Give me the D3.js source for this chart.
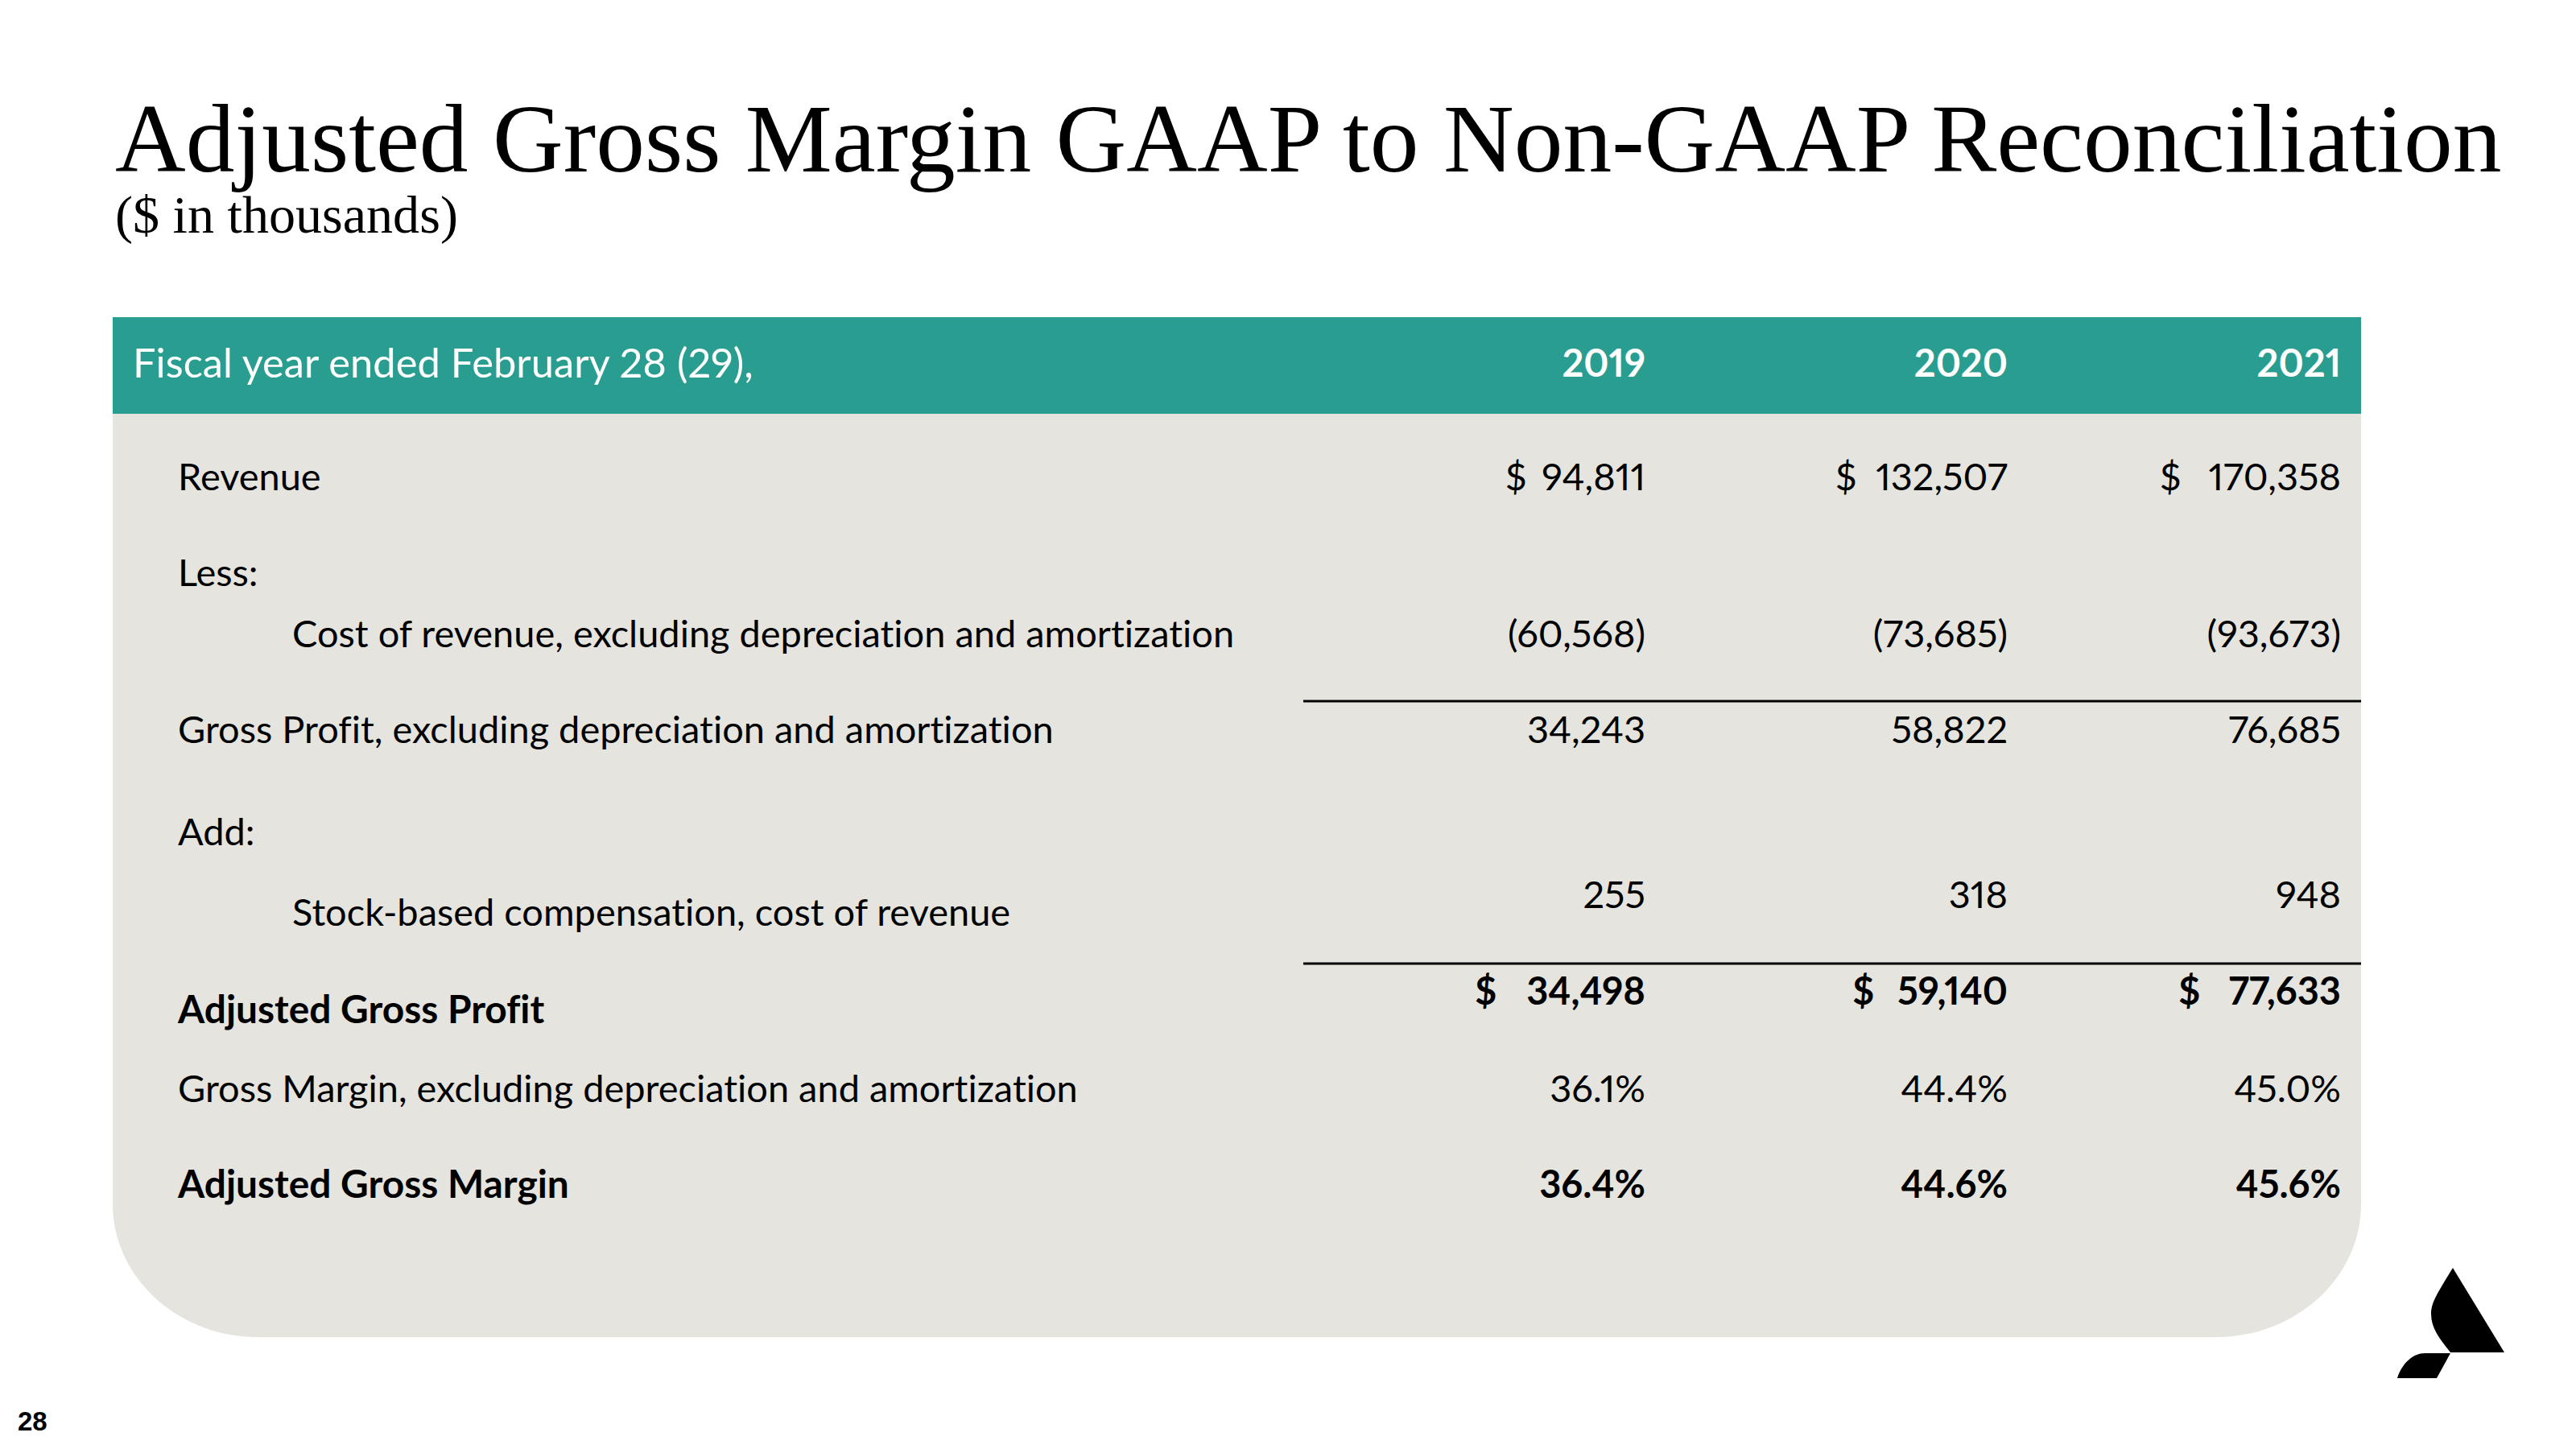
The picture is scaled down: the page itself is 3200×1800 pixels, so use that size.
<!DOCTYPE html>
<html>
<head>
<meta charset="utf-8">
<script src="https://cdn.jsdelivr.net/npm/d3@7"></script>
<style>
html,body{margin:0;padding:0;background:#fff;}
svg{display:block;}
svg text{font-variant-ligatures:none;font-feature-settings:"liga" 0, "pnum" 1;}
</style>
</head>
<body>
<svg id="chart" width="3200" height="1800"></svg>
<script>
// ---------------- DATA ----------------
const titleText = "Adjusted Gross Margin GAAP to Non-GAAP Reconciliation";
const subtitleText = "($ in thousands)";
const headerLabel = "Fiscal year ended February 28 (29),";
const years = ["2019", "2020", "2021"];
const rowKeys = ["revenue", "less", "cost", "gp", "add", "sbc", "agp", "gm", "agm"];
const rowLabels = [
  "Revenue",
  "Less:",
  "Cost of revenue, excluding depreciation and amortization",
  "Gross Profit, excluding depreciation and amortization",
  "Add:",
  "Stock-based compensation, cost of revenue",
  "Adjusted Gross Profit",
  "Gross Margin, excluding depreciation and amortization",
  "Adjusted Gross Margin"
];
const revenue = [94811, 132507, 170358];
const costOfRevenue = [-60568, -73685, -93673];
const grossProfit = [34243, 58822, 76685];
const stockComp = [255, 318, 948];
const adjGrossProfit = [34498, 59140, 77633];
const grossMargin = [36.1, 44.4, 45.0];
const adjGrossMargin = [36.4, 44.6, 45.6];
const pageNumber = "28";

// ---------------- LAYOUT ----------------
const svg = d3.select("#chart");
const panel = {x0: 140, x1: 2933, top: 394, headBottom: 514, bottom: 1661, rx: 180, ry: 165};
const teal = "#299e90", grey = "#e5e4de";
const bodyFont = "Lato, 'Noto Sans', sans-serif";

// column (right edge) scale
const colX = d3.scaleOrdinal().domain(years).range([2044, 2494, 2908]);
// dollar sign positions per column, regular and bold rows
const dollarReg = d3.scaleOrdinal().domain(years).range([1870, 2280, 2683]);
const dollarBold = d3.scaleOrdinal().domain(years).range([1832, 2301, 2706]);
// row baselines
const labelY = d3.scaleOrdinal().domain(rowKeys).range([609, 728, 804, 923, 1050, 1150, 1271, 1369, 1488]);
const valueY = d3.scaleOrdinal().domain(rowKeys).range([609, 728, 804, 923, 1050, 1128, 1248, 1369, 1488]);
const indent = {revenue:221, less:221, cost:363, gp:221, add:221, sbc:363, agp:221, gm:221, agm:221};
const boldRows = new Set(["agp", "agm"]);

function fitText(sel, targetW) {
  const w = sel.node().getComputedTextLength();
  const fs = parseFloat(sel.attr("font-size"));
  sel.attr("font-size", fs * targetW / w);
}

// ---------------- TITLE ----------------
const title = svg.append("text")
  .attr("x", 143).attr("y", 213)
  .attr("font-family", "'Liberation Serif', 'Times New Roman', serif")
  .attr("font-size", 122).attr("fill", "#000")
  .text(titleText);
fitText(title, 2965);
const sub = svg.append("text")
  .attr("x", 143).attr("y", 289)
  .attr("font-family", "'Liberation Serif', 'Times New Roman', serif")
  .attr("font-size", 66).attr("fill", "#000")
  .text(subtitleText);
fitText(sub, 426);

// ---------------- PANEL ----------------
const p = d3.path();
p.moveTo(panel.x0, panel.headBottom);
p.lineTo(panel.x1, panel.headBottom);
p.lineTo(panel.x1, panel.bottom - panel.ry);
p.bezierCurveTo(panel.x1, panel.bottom - panel.ry * 0.45, panel.x1 - panel.rx * 0.45, panel.bottom, panel.x1 - panel.rx, panel.bottom);
p.lineTo(panel.x0 + panel.rx, panel.bottom);
p.bezierCurveTo(panel.x0 + panel.rx * 0.45, panel.bottom, panel.x0, panel.bottom - panel.ry * 0.45, panel.x0, panel.bottom - panel.ry);
p.closePath();
svg.append("path").attr("d", p.toString()).attr("fill", grey);
svg.append("rect")
  .attr("x", panel.x0).attr("y", panel.top)
  .attr("width", panel.x1 - panel.x0).attr("height", panel.headBottom - panel.top)
  .attr("fill", teal);

// body font size: fit long label width
const probe = svg.append("text").attr("font-family", bodyFont).attr("font-size", 100)
  .text(rowLabels[7]);
const bodySize = 100 * 1118 / probe.node().getComputedTextLength();
probe.remove();

// header texts
const headerTxt = svg.append("text")
  .attr("x", 165).attr("y", 469)
  .attr("font-family", bodyFont).attr("font-size", bodySize)
  .attr("fill", "#fff").text(headerLabel);
fitText(headerTxt, 771);

svg.append("g").selectAll("text").data(years).join("text")
  .attr("x", d => colX(d)).attr("y", 468)
  .attr("text-anchor", "end")
  .attr("font-family", bodyFont).attr("font-weight", 700)
  .attr("font-size", bodySize).attr("fill", "#fff")
  .text(d => d);

// row labels
svg.append("g").selectAll("text").data(rowKeys).join("text")
  .attr("x", d => indent[d]).attr("y", d => labelY(d))
  .attr("font-family", bodyFont)
  .attr("font-weight", d => boldRows.has(d) ? 700 : 400)
  .attr("font-size", d => boldRows.has(d) ? bodySize * 1.02 : bodySize)
  .attr("fill", "#000")
  .text((d, i) => rowLabels[i]);

// values
const fmt = d3.format(",");
const numFmt = v => v < 0 ? "(" + fmt(-v) + ")" : fmt(v);
const pctFmt = v => d3.format(".1f")(v) + "%";
const valueRows = [
  {key: "revenue", vals: revenue, f: numFmt, dollar: true},
  {key: "cost", vals: costOfRevenue, f: numFmt},
  {key: "gp", vals: grossProfit, f: numFmt},
  {key: "sbc", vals: stockComp, f: numFmt},
  {key: "agp", vals: adjGrossProfit, f: numFmt, dollar: true},
  {key: "gm", vals: grossMargin, f: pctFmt},
  {key: "agm", vals: adjGrossMargin, f: pctFmt}
];
const cells = valueRows.flatMap(r => r.vals.map((v, i) => ({key: r.key, year: years[i], v, f: r.f, dollar: r.dollar})));
const vg = svg.append("g");
vg.selectAll("text.val").data(cells).join("text")
  .attr("class", "val")
  .attr("x", d => colX(d.year)).attr("y", d => valueY(d.key))
  .attr("text-anchor", "end")
  .attr("font-family", bodyFont)
  .attr("font-weight", d => boldRows.has(d.key) ? 700 : 400)
  .attr("font-size", bodySize).attr("fill", "#000")
  .text(d => d.f(d.v))
  .each(function(d) { d.w = this.getComputedTextLength(); });
vg.selectAll("text.dol").data(cells.filter(d => d.dollar)).join("text")
  .attr("class", "dol")
  .attr("y", d => valueY(d.key))
  .attr("font-family", bodyFont)
  .attr("font-weight", d => boldRows.has(d.key) ? 700 : 400)
  .attr("font-size", bodySize).attr("fill", "#000")
  .text("$")
  .attr("x", function(d) {
    const ref = boldRows.has(d.key) ? dollarBold(d.year) : dollarReg(d.year);
    const dw = this.getComputedTextLength();
    const numLeft = colX(d.year) - d.w;
    return Math.min(ref, numLeft - dw - 14);
  });

// rules
const ruleYs = [871, 1197];
svg.append("g").selectAll("line").data(ruleYs).join("line")
  .attr("x1", 1619).attr("x2", panel.x1)
  .attr("y1", d => d).attr("y2", d => d)
  .attr("stroke", "#000").attr("stroke-width", 3);

// ---------------- LOGO ----------------
const lg = d3.path();
lg.moveTo(3047, 1575);
lg.lineTo(3111, 1680);
lg.lineTo(3044, 1680);
lg.bezierCurveTo(3030, 1662, 3020, 1650, 3020, 1632);
lg.bezierCurveTo(3020, 1618, 3028, 1606, 3047, 1575);
lg.closePath();
lg.moveTo(3044, 1681);
lg.lineTo(3027, 1712);
lg.lineTo(2978, 1712);
lg.bezierCurveTo(2984, 1693, 2998, 1681, 3012, 1681);
lg.closePath();
svg.append("path").attr("d", lg.toString()).attr("fill", "#000");

// page number
svg.append("text")
  .attr("x", 22).attr("y", 1777)
  .attr("font-family", "'Liberation Sans', Arial, sans-serif")
  .attr("font-weight", 700).attr("font-size", 33).attr("fill", "#000")
  .text(pageNumber);
</script>
</body>
</html>
